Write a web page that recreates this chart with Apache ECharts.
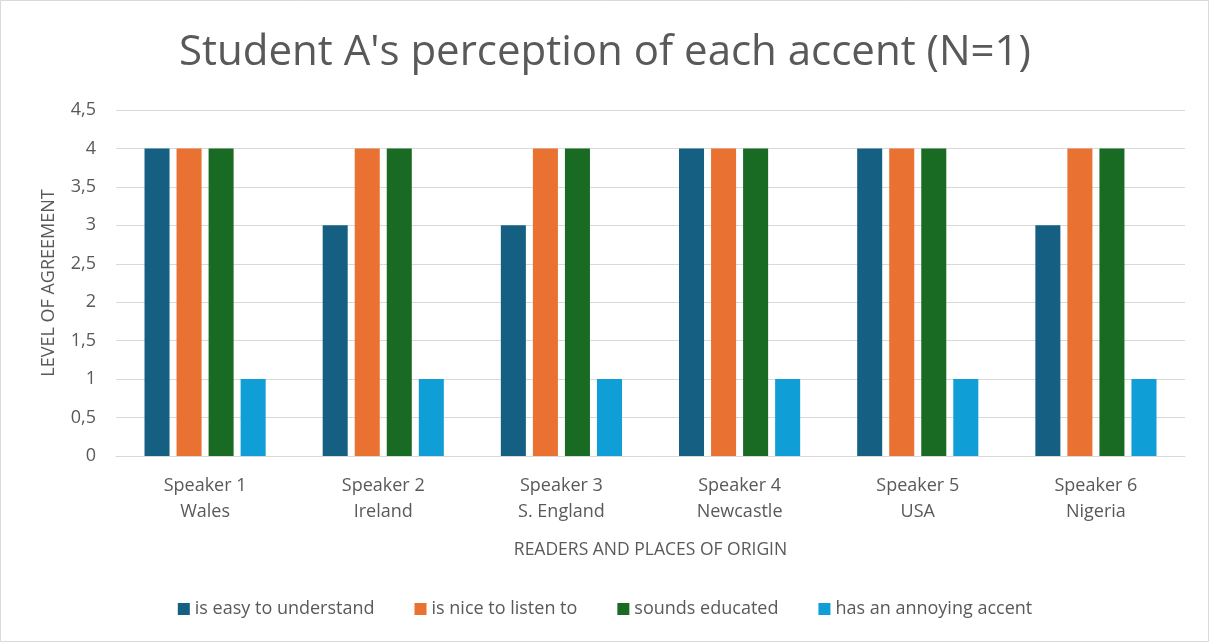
<!DOCTYPE html>
<html>
<head>
<meta charset="utf-8">
<script src="https://cdn.jsdelivr.net/npm/echarts@6/dist/echarts.min.js"></script>
<style>
  html, body { margin: 0; padding: 0; background: #ffffff; }
  #chart { width: 1210px; height: 644px; }
</style>
</head>
<body>
<div id="chart"></div>
<script>
// Speakers and their places of origin
const speakers = ['Speaker 1', 'Speaker 2', 'Speaker 3', 'Speaker 4', 'Speaker 5', 'Speaker 6'];
const origins = ['Wales', 'Ireland', 'S. England', 'Newcastle', 'USA', 'Nigeria'];

// Level of agreement for each statement
const easyToUnderstand = [4, 3, 3, 4, 4, 3];
const niceToListenTo = [4, 4, 4, 4, 4, 4];
const soundsEducated = [4, 4, 4, 4, 4, 4];
const annoyingAccent = [1, 1, 1, 1, 1, 1];

const seriesNames = ['is easy to understand', 'is nice to listen to', 'sounds educated', 'has an annoying accent'];
const seriesColors = ['#156082', '#E97132', '#196B24', '#0F9ED5'];

const categories = speakers.map((s, i) => s + '\n' + origins[i]);
const values = [easyToUnderstand, niceToListenTo, soundsEducated, annoyingAccent];

const chart = echarts.init(document.getElementById('chart'), null, { renderer: 'canvas' });

const font = '"Open Sans", Roboto, sans-serif';

chart.setOption({
  backgroundColor: '#ffffff',
  animation: false,
  title: {
    text: "Student A's perception of each accent (N=1)",
    left: 'center',
    top: 27,
    textStyle: { fontFamily: font, fontSize: 42, fontWeight: 'normal', color: '#595959' }
  },
  graphic: [{
    type: 'rect',
    shape: { x: 0.5, y: 0.5, width: 1208, height: 641 },
    style: { fill: 'none', stroke: '#d9d9d9', lineWidth: 1 },
    silent: true
  }],
  legend: {
    bottom: 21,
    left: 'center',
    itemWidth: 12,
    itemHeight: 12,
    itemGap: 40,
    icon: 'rect',
    textStyle: { fontFamily: font, fontSize: 18, color: '#595959' },
    data: seriesNames
  },
  grid: { left: 116, right: 25, top: 110, bottom: 188 },
  xAxis: {
    type: 'category',
    data: categories,
    name: 'READERS AND PLACES OF ORIGIN',
    nameLocation: 'middle',
    nameGap: 85,
    nameTextStyle: { fontFamily: font, fontSize: 17.5, color: '#595959' },
    axisLine: { lineStyle: { color: '#d9d9d9', width: 1 } },
    axisTick: { show: false },
    axisLabel: { fontFamily: font, fontSize: 18, color: '#595959', lineHeight: 26, margin: 17 }
  },
  yAxis: {
    type: 'value',
    min: 0,
    max: 4.5,
    interval: 0.5,
    name: 'LEVEL OF AGREEMENT',
    nameLocation: 'middle',
    nameGap: 58,
    nameTextStyle: { fontFamily: font, fontSize: 18, color: '#595959' },
    axisLine: { show: false },
    axisTick: { show: false },
    splitLine: { lineStyle: { color: '#d9d9d9', width: 1 } },
    axisLabel: {
      fontFamily: font, fontSize: 18, color: '#595959', margin: 20,
      formatter: v => String(v).replace('.', ',')
    }
  },
  series: seriesNames.map((name, i) => ({
    name: name,
    type: 'bar',
    data: values[i],
    barGap: '28%',
    barCategoryGap: '32%',
    itemStyle: { color: seriesColors[i] }
  }))
});
</script>
</body>
</html>
